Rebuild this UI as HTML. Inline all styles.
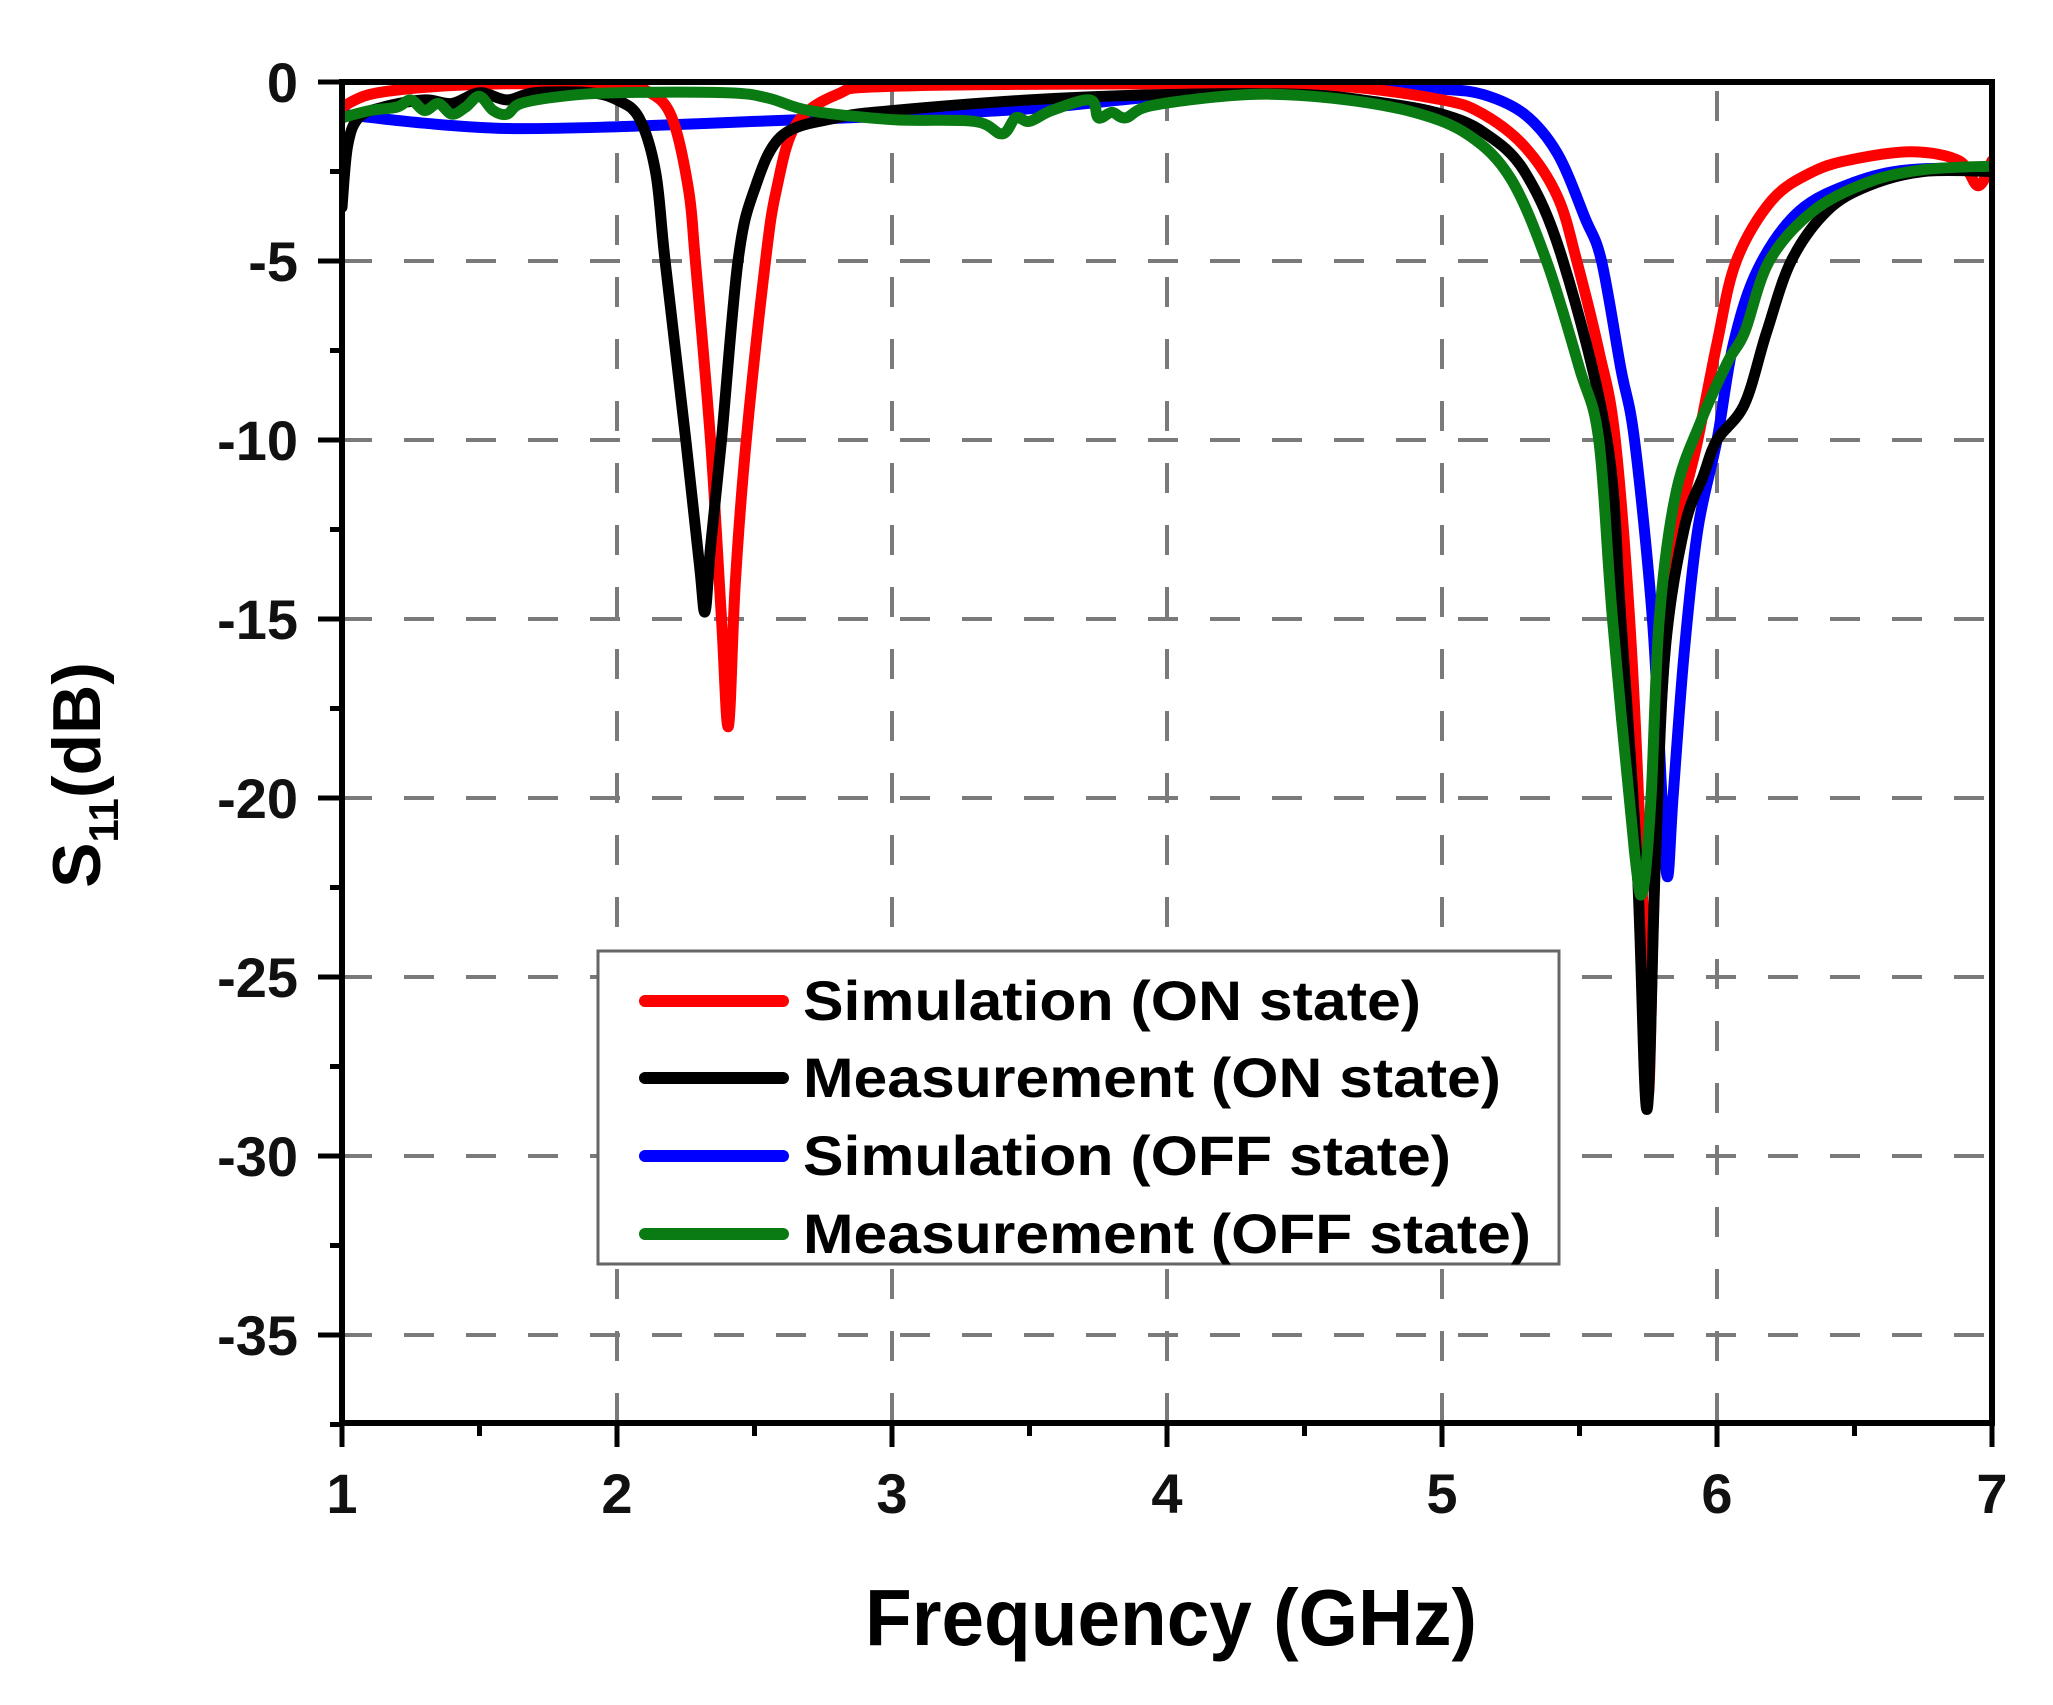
<!DOCTYPE html>
<html><head><meta charset="utf-8"><style>html,body{margin:0;padding:0;background:#fff}svg{display:block}</style></head>
<body>
<svg id="s" width="2053" height="1705" viewBox="0 0 2053 1705" xmlns="http://www.w3.org/2000/svg" font-family="Liberation Sans, sans-serif" font-weight="bold">
<defs><clipPath id="c"><rect x="342" y="82" width="1650" height="1341"/></clipPath></defs>
<g id="grid" stroke="#7a7a7a" stroke-width="4" stroke-dasharray="30,32" fill="none"></g>
<g id="curves" clip-path="url(#c)" fill="none" stroke-width="11" stroke-linejoin="round" stroke-linecap="round"></g>
<rect x="342" y="82" width="1650" height="1341" fill="none" stroke="#000" stroke-width="6"/>
<g id="ticks" stroke="#000" stroke-width="5"></g>
<g id="labels" font-size="56" fill="#111"></g>
<text x="1171" y="1645" font-size="80" text-anchor="middle" textLength="612" lengthAdjust="spacingAndGlyphs">Frequency (GHz)</text>
<g transform="translate(100,775) rotate(-90)"><text x="0" y="0" font-size="68" text-anchor="middle">S<tspan font-size="42" dy="18">11</tspan><tspan dy="-18">(dB)</tspan></text></g>
<rect x="598" y="951" width="961" height="313" fill="#fff" stroke="#666" stroke-width="3"/>
<g font-size="56" fill="#000">
<line x1="645" y1="1001" x2="783" y2="1001" stroke="#f00" stroke-width="12" stroke-linecap="round"/>
<text x="803" y="1020" textLength="618" lengthAdjust="spacingAndGlyphs">Simulation (ON state)</text>
<line x1="645" y1="1078" x2="783" y2="1078" stroke="#000" stroke-width="12" stroke-linecap="round"/>
<text x="803" y="1097" textLength="698" lengthAdjust="spacingAndGlyphs">Measurement (ON state)</text>
<line x1="645" y1="1156" x2="783" y2="1156" stroke="#00f" stroke-width="12" stroke-linecap="round"/>
<text x="803" y="1175" textLength="648" lengthAdjust="spacingAndGlyphs">Simulation (OFF state)</text>
<line x1="645" y1="1234" x2="783" y2="1234" stroke="#0a7a12" stroke-width="12" stroke-linecap="round"/>
<text x="803" y="1253" textLength="728" lengthAdjust="spacingAndGlyphs">Measurement (OFF state)</text>
</g>
</svg>
<script>
var NS="http://www.w3.org/2000/svg";
function X(f){return 342+(f-1)*275;}
function Y(d){return 82-d*35.8;}
function el(p,t,a,txt){var e=document.createElementNS(NS,t);for(var k in a)e.setAttribute(k,a[k]);if(txt!==undefined)e.textContent=txt;document.getElementById(p).appendChild(e);}
for(var f=2;f<=6;f++)el("grid","line",{x1:X(f),y1:1423,x2:X(f),y2:82});
for(var d=-5;d>=-35;d-=5)el("grid","line",{x1:342,y1:Y(d),x2:1992,y2:Y(d)});
for(var f=1;f<=7;f++){el("ticks","line",{x1:X(f),y1:1423,x2:X(f),y2:1447});el("labels","text",{x:X(f),y:1513,"text-anchor":"middle"},""+f);}
for(var f=1.5;f<7;f+=1)el("ticks","line",{x1:X(f),y1:1423,x2:X(f),y2:1436});
for(var d=0;d>=-35;d-=5){el("ticks","line",{x1:318,y1:Y(d),x2:342,y2:Y(d)});el("labels","text",{x:298,y:Y(d)+20,"text-anchor":"end"},d==0?"0":("-"+(-d)));}
for(var d=-2.5;d>=-37.5;d-=5)el("ticks","line",{x1:330,y1:Y(d),x2:342,y2:Y(d)});
function path(pts){var p=pts.map(function(a){return [X(a[0]),Y(a[1])];});var s="M"+p[0][0]+","+p[0][1];
for(var i=0;i<p.length-1;i++){var p0=p[Math.max(0,i-1)],p1=p[i],p2=p[i+1],p3=p[Math.min(p.length-1,i+2)];
var c1=[p1[0]+(p2[0]-p0[0])/6,p1[1]+(p2[1]-p0[1])/6],c2=[p2[0]-(p3[0]-p1[0])/6,p2[1]-(p3[1]-p1[1])/6];
s+=" C"+c1[0].toFixed(1)+","+c1[1].toFixed(1)+" "+c2[0].toFixed(1)+","+c2[1].toFixed(1)+" "+p2[0].toFixed(1)+","+p2[1].toFixed(1);}return s;}
var red=[[1,-0.7],[1.1,-0.35],[1.3,-0.15],[1.6,-0.05],[2.0,-0.1],[2.12,-0.3],[2.2,-1],[2.26,-3],[2.285,-5],[2.34,-10],[2.38,-15],[2.405,-18],[2.43,-14],[2.47,-10],[2.54,-5],[2.58,-3],[2.65,-1.2],[2.8,-0.35],[3,-0.12],[4,-0.05],[4.6,-0.1],[5.0,-0.5],[5.15,-0.9],[5.3,-1.8],[5.42,-3.2],[5.49,-5],[5.57,-7.5],[5.63,-10],[5.69,-16],[5.73,-23],[5.75,-28.3],[5.77,-23],[5.8,-17],[5.86,-12.5],[5.93,-10],[6.0,-7.3],[6.07,-5],[6.2,-3.3],[6.35,-2.5],[6.5,-2.15],[6.71,-1.95],[6.88,-2.2],[6.95,-2.9],[7,-2.2]];
var black=[[1,-3.5],[1.02,-1.8],[1.06,-1.0],[1.15,-0.7],[1.3,-0.5],[1.4,-0.6],[1.5,-0.3],[1.6,-0.5],[1.7,-0.3],[1.9,-0.3],[2.0,-0.5],[2.08,-1],[2.14,-2.5],[2.175,-5],[2.25,-10],[2.3,-13.5],[2.32,-14.8],[2.34,-13],[2.38,-10],[2.44,-5],[2.5,-3],[2.6,-1.5],[2.8,-1.0],[3.0,-0.8],[3.5,-0.5],[4.0,-0.35],[4.5,-0.35],[4.8,-0.6],[5.0,-0.9],[5.15,-1.4],[5.3,-2.5],[5.44,-5],[5.6,-10],[5.65,-15],[5.71,-22],[5.745,-28.7],[5.775,-22],[5.81,-16],[5.88,-12.5],[5.95,-11],[6.0,-10],[6.1,-9],[6.18,-7],[6.27,-5],[6.4,-3.6],[6.55,-2.9],[6.75,-2.5],[7,-2.5]];
var blue=[[1,-0.9],[1.3,-1.15],[1.6,-1.3],[2.0,-1.25],[2.5,-1.1],[3.0,-0.95],[3.5,-0.75],[3.9,-0.45],[4.3,-0.2],[4.7,-0.1],[5.0,-0.2],[5.15,-0.35],[5.3,-0.9],[5.42,-2],[5.52,-3.8],[5.58,-5],[5.65,-8],[5.7,-10],[5.765,-15],[5.8,-20],[5.82,-22.2],[5.84,-20],[5.88,-16],[5.93,-12.5],[6.0,-10],[6.06,-7.3],[6.15,-5.2],[6.3,-3.6],[6.5,-2.8],[6.7,-2.45],[7,-2.4]];
var green=[[1,-1],[1.1,-0.8],[1.2,-0.7],[1.25,-0.5],[1.3,-0.8],[1.35,-0.6],[1.4,-0.9],[1.45,-0.7],[1.5,-0.4],[1.55,-0.8],[1.6,-0.9],[1.65,-0.6],[1.8,-0.4],[2.0,-0.3],[2.4,-0.3],[2.55,-0.45],[2.7,-0.8],[3.0,-1.05],[3.3,-1.1],[3.4,-1.45],[3.45,-1.0],[3.5,-1.1],[3.58,-0.8],[3.72,-0.5],[3.75,-1.0],[3.8,-0.85],[3.85,-1.0],[3.95,-0.65],[4.3,-0.35],[4.6,-0.45],[4.9,-0.85],[5.1,-1.5],[5.25,-2.7],[5.38,-5],[5.5,-8],[5.57,-10],[5.62,-15],[5.7,-21.5],[5.73,-22.6],[5.76,-20],[5.79,-15],[5.85,-11.5],[5.94,-9.5],[6.04,-7.8],[6.1,-7],[6.19,-5],[6.35,-3.6],[6.55,-2.8],[6.75,-2.45],[7,-2.35]];
[[blue,"#0000ff"],[red,"#ff0000"],[black,"#000000"],[green,"#0a7a12"]].forEach(function(c){el("curves","path",{d:path(c[0]),stroke:c[1]});});
</script>
</body></html>
